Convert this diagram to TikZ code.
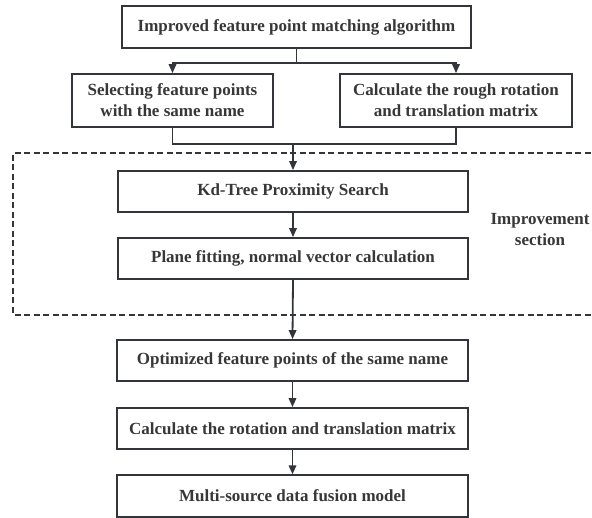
\documentclass[tikz,border=0pt]{standalone}
\usepackage{fontspec}
\setmainfont{Liberation Serif}
\usetikzlibrary{arrows.meta}
\definecolor{ln}{RGB}{50,54,58}
\definecolor{tx}{RGB}{55,55,55}
\tikzset{
  box/.style={draw=ln, line width=1.8pt, rectangle, inner sep=0pt, align=center,
    text=tx, font=\fontsize{17}{21}\selectfont\bfseries},
  arr/.style={draw=ln, line width=1.8pt, -{Triangle[length=9pt,width=7.5pt]}},
  ln/.style={draw=ln, line width=1.8pt},
  dashbox/.style={draw=ln, line width=1.8pt, dash pattern=on 6pt off 3.5pt},
  lab/.style={text=tx, align=center, font=\fontsize{17}{21}\selectfont\bfseries}
}
\begin{document}
\begin{tikzpicture}[x=1pt,y=-1pt]
\useasboundingbox (0,0) rectangle (592,518);
\begin{scope}
\clip (0,0) rectangle (592,518);
\draw[dashbox] (600,153) -- (13,153) -- (13,315) -- (600,315);
\end{scope}
\node[box, minimum width=349pt, minimum height=42pt] (top) at (296.5,27) {Improved feature point matching algorithm};
\node[box, minimum width=201pt, minimum height=53pt] (left) at (172.5,100.5) {Selecting feature points\\with the same name};
\node[box, minimum width=232pt, minimum height=53pt] (right) at (456,100.5) {Calculate the rough rotation\\and translation matrix};
\node[box, minimum width=350pt, minimum height=41pt] (kd) at (293,191.5) {Kd-Tree Proximity Search};
\node[box, minimum width=350pt, minimum height=41pt] (plane) at (293,258.5) {Plane fitting, normal vector calculation};
\node[box, minimum width=351pt, minimum height=41pt] (opt) at (292.5,360.5) {Optimized feature points of the same name};
\node[box, minimum width=351pt, minimum height=41pt] (calc) at (292.5,428.5) {Calculate the rotation and translation matrix};
\node[box, minimum width=351pt, minimum height=41.5pt] (multi) at (292.5,496) {Multi-source data fusion model};
\node[lab] (imp) at (540,229.5) {Improvement\\section};
\coordinate (j) at (293,143);
\draw[arr] (top.south) -- ++(0,14) -| (left.north);
\draw[arr] (top.south) -- ++(0,14) -| (right.north);
\draw[ln] (left.south) -- ++(0,16) -| (right.south);
\draw[arr] (j) -- (kd.north);
\draw[arr] (kd) -- (plane);
\draw[arr] (plane.south) -- (opt.north);
\draw[arr] (opt) -- (calc);
\draw[arr] (calc) -- (multi);
\end{tikzpicture}
\end{document}
